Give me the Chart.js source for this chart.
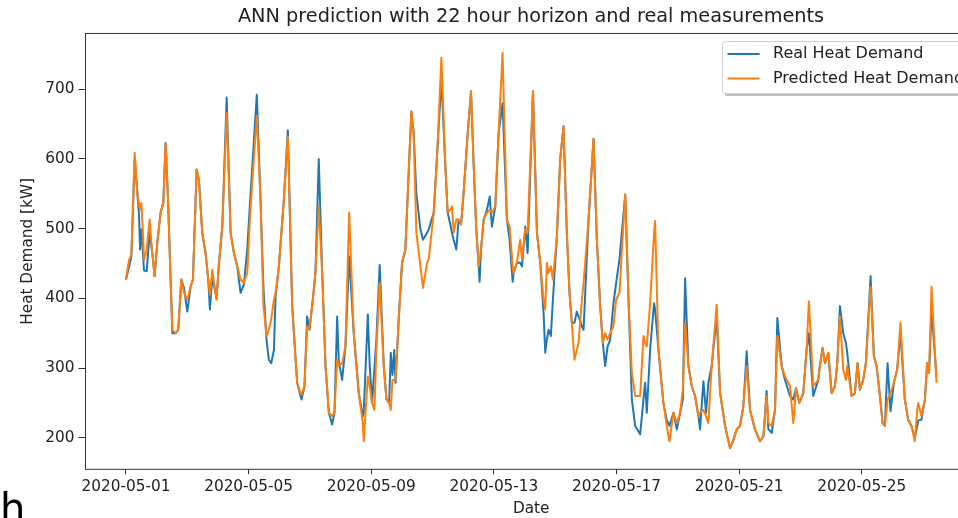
<!DOCTYPE html>
<html>
<head>
<meta charset="utf-8">
<title>ANN prediction with 22 hour horizon and real measurements</title>
<script src="https://cdn.jsdelivr.net/npm/chart.js@4.4.1/dist/chart.umd.min.js"></script>
<style>
  html, body { margin: 0; padding: 0; width: 958px; height: 518px; overflow: hidden; background: #fff; }
  #wrap { position: relative; width: 958px; height: 518px; overflow: hidden; }
  #chart { position: absolute; left: 0; top: 0; }
  #corner { position: absolute; left: 0; top: 488px; font: 40px "DejaVu Sans", sans-serif; line-height: 40px; color: #000; }
</style>
</head>
<body>
<div id="wrap">
  <canvas id="chart" width="1062" height="518"></canvas>
  <div id="corner">h</div>
</div>
<script>
// hours since 2020-05-01 00:00 at turning points
const hours = [
  0, 2.4, 4.2, 6.8, 8.9, 10.2, 11.0, 12.0, 13.1, 14.1, 16.2, 18.5, 20.6, 22.4, 24.5, 27.1, 29.2, 31.0, 32.9, 35.0,
  36.3, 38.9, 40.9, 43.3, 45.4, 48.0, 50.6, 52.4, 55.3, 57.1, 59.7, 62.3, 64.4, 65.7, 67.5, 70.9, 72.8, 75.4, 78.8, 81.9,
  84.5, 87.1, 89.7, 92.3, 94.9, 97.5, 102.4, 105.3, 107.6, 110.0, 111.8, 113.7, 115.8, 117.1, 119.7, 123.6, 126.7, 130.1, 134.0, 136.6,
  137.4, 139.7, 141.8, 143.6, 145.7, 148.3, 150.9, 153.6, 156.2, 158.8, 161.4, 163.2, 165.3, 166.6, 169.2, 171.8, 174.7, 178.3, 182.2, 185.4,
  186.1, 189.3, 190.8, 192.6, 194.5, 196.0, 198.6, 201.8, 203.9, 206.0, 207.3, 208.6, 210.0, 211.0, 213.5, 216.1, 218.7, 221.3, 223.4, 225.2,
  227.3, 230.5, 232.5, 235.7, 237.0, 240.9, 243.5, 246.9, 250.0, 251.8, 253.9, 255.2, 256.5, 258.6, 260.4, 262.3, 264.3, 267.5, 270.1, 272.2,
  274.2, 276.1, 276.8, 277.9, 280.0, 282.6, 284.7, 286.5, 289.1, 291.7, 294.8, 298.2, 300.3, 302.7, 303.4, 306.0, 308.6, 310.0, 312.6, 314.4,
  318.6, 321.7, 324.3, 326.9, 328.2, 329.5, 330.8, 332.6, 334.2, 337.3, 339.9, 342.5, 345.1, 347.2, 349.0, 351.1, 352.9, 354.3, 356.9, 358.2,
  362.1, 366.0, 368.6, 371.2, 373.3, 375.1, 377.0, 379.0, 381.6, 383.7, 386.3, 390.8, 393.4, 396.0, 398.6, 402.5, 405.1, 406.4, 407.7, 410.3,
  413.4, 414.2, 416.8, 420.7, 423.3, 425.4, 428.6, 431.2, 433.8, 435.9, 437.7, 440.3, 442.9, 445.5, 448.1, 449.4, 452.0, 454.1, 455.9, 458.5,
  462.4, 465.1, 469.0, 472.9, 475.5, 478.1, 480.7, 483.3, 485.9, 488.5, 492.4, 496.3, 499.0, 501.5, 502.9, 505.5, 508.1, 509.9, 513.3, 515.9,
  519.8, 522.4, 524.5, 527.1, 530.2, 532.8, 534.6, 538.0, 541.9, 543.2, 545.3, 547.2, 549.8, 552.4, 555.0, 556.8, 558.9, 561.5, 563.6, 564.6,
  568.0, 570.6, 572.7, 574.5, 577.1, 579.2, 582.9, 585.5, 587.6, 590.2, 592.3, 594.1, 596.2, 598.5, 601.1, 603.7, 606.3, 609.7, 612.3, 614.9,
  617.5, 619.4, 620.2, 622.7, 625.4, 627.2, 628.7, 630.6, 634.5
];

const realDemand = [
  427, 445, 460, 600, 551, 520, 470, 499, 470, 440, 439, 494, 465, 432, 480, 523, 537, 623, 542, 422,
  350, 350, 355, 427, 415, 381, 417, 427, 585, 570, 494, 465, 427, 384, 430, 400, 451, 503, 688, 494,
  465, 446, 408, 420, 470, 550, 692, 542, 415, 341, 312, 307, 326, 403, 446, 542, 641, 389, 279, 260,
  255, 274, 374, 355, 389, 436, 600, 436, 303, 236, 219, 236, 374, 310, 283, 331, 460, 350, 264, 231,
  236, 377, 303, 250, 300, 341, 448, 303, 255, 250, 322, 290, 326, 279, 370, 451, 470, 580, 668, 637,
  551, 499, 484, 494, 499, 523, 604, 714, 590, 523, 506, 494, 484, 470, 513, 506, 551, 637, 697, 590,
  499, 446, 424, 470, 513, 527, 546, 503, 532, 637, 680, 513, 484, 424, 436, 451, 451, 446, 503, 465,
  697, 494, 451, 379, 322, 341, 355, 346, 398, 489, 599, 647, 494, 408, 365, 365, 381, 374, 360, 355,
  513, 629, 484, 389, 336, 303, 331, 340, 393, 422, 456, 549, 398, 255, 217, 205, 255, 279, 236, 326,
  393, 384, 327, 250, 226, 217, 236, 212, 236, 255, 429, 303, 274, 260, 231, 212, 281, 236, 279, 303,
  374, 264, 217, 185, 197, 212, 217, 245, 324, 240, 212, 195, 202, 267, 212, 207, 240, 372, 303, 283,
  260, 255, 271, 250, 264, 327, 350, 260, 283, 303, 329, 307, 322, 264, 274, 307, 389, 350, 336, 322,
  260, 264, 307, 269, 283, 307, 432, 317, 303, 260, 221, 217, 307, 238, 279, 298, 350, 255, 226, 217,
  200, 217, 225, 226, 255, 307, 293, 384, 288
];

const predictedDemand = [
  427, 455, 462, 609, 551, 535, 527, 537, 500, 455, 470, 513, 465, 432, 480, 523, 537, 623, 542, 422,
  355, 350, 355, 427, 408, 398, 417, 427, 585, 570, 494, 465, 427, 405, 441, 398, 451, 503, 666, 494,
  465, 446, 427, 422, 436, 530, 662, 542, 390, 346, 355, 370, 398, 408, 446, 542, 632, 389, 279, 264,
  262, 274, 360, 355, 389, 436, 532, 436, 303, 236, 231, 236, 312, 303, 307, 331, 523, 350, 264, 221,
  195, 288, 274, 250, 240, 327, 422, 303, 255, 250, 240, 283, 283, 283, 370, 451, 470, 580, 668, 637,
  494, 446, 415, 451, 456, 523, 604, 745, 590, 523, 527, 532, 494, 513, 513, 506, 551, 637, 697, 590,
  499, 446, 456, 470, 513, 523, 527, 523, 532, 637, 752, 513, 503, 446, 436, 451, 484, 456, 500, 494,
  697, 494, 451, 398, 384, 451, 436, 446, 427, 489, 599, 647, 494, 408, 365, 312, 326, 336, 398, 422,
  513, 629, 484, 389, 336, 350, 341, 350, 360, 398, 408, 549, 398, 293, 260, 260, 346, 336, 331, 393,
  494, 511, 327, 250, 217, 195, 236, 221, 236, 269, 365, 303, 274, 260, 231, 236, 240, 231, 221, 303,
  391, 264, 217, 185, 197, 212, 217, 245, 303, 240, 212, 195, 202, 260, 221, 217, 240, 346, 303, 288,
  274, 221, 271, 250, 264, 327, 396, 274, 283, 303, 329, 307, 322, 264, 274, 307, 374, 298, 283, 303,
  260, 264, 307, 269, 283, 307, 417, 317, 303, 260, 221, 217, 255, 264, 279, 298, 365, 255, 226, 217,
  195, 240, 250, 231, 255, 307, 293, 417, 279
];

const tickLabels = ['2020-05-01', '2020-05-05', '2020-05-09', '2020-05-13', '2020-05-17', '2020-05-21', '2020-05-25'];
const yTicks = [200, 300, 400, 500, 600, 700];
const seriesNames = ['Real Heat Demand', 'Predicted Heat Demand'];

const FONT = '"DejaVu Sans", sans-serif';
const BLUE = '#1f77b4';
const ORANGE = '#ff7f0e';

// top and right spines like matplotlib
const framePlugin = {
  id: 'frame',
  afterDraw(chart) {
    const { ctx, chartArea: a } = chart;
    ctx.save();
    ctx.strokeStyle = '#333';
    ctx.lineWidth = 1;
    ctx.strokeRect(a.left, a.top, a.right - a.left, a.bottom - a.top);
    ctx.restore();
  }
};

// legend box in the upper right corner, inside the axes
const boxLegend = {
  id: 'boxLegend',
  afterDraw(chart) {
    const { ctx, chartArea: a } = chart;
    const w = 254, h = 52;
    const x = 722.5, y = 41.5;
    ctx.save();
    ctx.fillStyle = 'rgba(0,0,0,0.25)';
    roundRect(ctx, x + 2, y + 2.5, w, h, 3);
    ctx.fill();
    ctx.fillStyle = '#fff';
    ctx.strokeStyle = '#d0d0d0';
    ctx.lineWidth = 1;
    roundRect(ctx, x, y, w, h, 3);
    ctx.fill();
    ctx.stroke();
    const colors = [BLUE, ORANGE];
    ctx.font = '16px ' + FONT;
    ctx.textBaseline = 'middle';
    seriesNames.forEach((name, i) => {
      const ry = y + 12.5 + i * 24.5;
      ctx.strokeStyle = colors[i];
      ctx.lineWidth = 2;
      ctx.beginPath();
      ctx.moveTo(x + 5, ry);
      ctx.lineTo(x + 37, ry);
      ctx.stroke();
      ctx.fillStyle = '#222';
      ctx.fillText(name, x + 50.5, ry);
    });
    ctx.restore();
  }
};

function roundRect(ctx, x, y, w, h, r) {
  ctx.beginPath();
  ctx.moveTo(x + r, y);
  ctx.lineTo(x + w - r, y);
  ctx.quadraticCurveTo(x + w, y, x + w, y + r);
  ctx.lineTo(x + w, y + h - r);
  ctx.quadraticCurveTo(x + w, y + h, x + w - r, y + h);
  ctx.lineTo(x + r, y + h);
  ctx.quadraticCurveTo(x, y + h, x, y + h - r);
  ctx.lineTo(x, y + r);
  ctx.quadraticCurveTo(x, y, x + r, y);
  ctx.closePath();
}

const realPoints = hours.map((h, i) => ({ x: h, y: realDemand[i] }));
const predPoints = hours.map((h, i) => ({ x: h, y: predictedDemand[i] }));

new Chart(document.getElementById('chart'), {
  type: 'line',
  data: {
    datasets: [
      {
        label: seriesNames[0],
        data: realPoints,
        borderColor: BLUE,
        borderWidth: 2,
        pointRadius: 0,
        tension: 0,
        borderJoinStyle: 'round',
        order: 2
      },
      {
        label: seriesNames[1],
        data: predPoints,
        borderColor: ORANGE,
        borderWidth: 2,
        pointRadius: 0,
        tension: 0,
        borderJoinStyle: 'round',
        order: 1
      }
    ]
  },
  options: {
    responsive: false,
    animation: false,
    devicePixelRatio: 1,
    layout: { padding: 0 },
    plugins: {
      legend: { display: false },
      tooltip: { enabled: false },
      title: {
        display: true,
        text: 'ANN prediction with 22 hour horizon and real measurements',
        color: '#222',
        font: { family: FONT, size: 19.3, weight: 'normal' },
        padding: { top: 5, bottom: 5.3 }
      }
    },
    scales: {
      x: {
        type: 'linear',
        min: -31.7,
        max: 666.2,
        border: { display: false },
        grid: { drawOnChartArea: false, drawTicks: true, tickLength: 5, tickColor: '#333', tickWidth: 1 },
        afterBuildTicks: s => { s.ticks = tickLabels.map((_, i) => ({ value: i * 96 })); },
        afterFit: s => { s.height = 48.7; },
        ticks: {
          autoSkip: false,
          maxRotation: 0,
          padding: 3.5,
          color: '#222',
          font: { family: FONT, size: 15.3 },
          callback: v => tickLabels[Math.round(v / 96)]
        },
        title: {
          display: true,
          text: 'Date',
          color: '#222',
          font: { family: FONT, size: 15.3 },
          padding: { top: 0, bottom: 0 }
        }
      },
      y: {
        min: 154.8,
        max: 780,
        border: { display: false },
        grid: { drawOnChartArea: false, drawTicks: true, tickLength: 7, tickColor: '#333', tickWidth: 1 },
        afterBuildTicks: s => { s.ticks = yTicks.map(v => ({ value: v })); },
        afterFit: s => { s.width = 85.5; },
        ticks: {
          padding: 4,
          color: '#222',
          font: { family: FONT, size: 15.3 }
        },
        title: {
          display: true,
          text: 'Heat Demand [kW]',
          color: '#222',
          font: { family: FONT, size: 15.3 },
          padding: { top: 19.3, bottom: 0 }
        }
      },
      // empty right-hand strip: the figure continues past the window edge
      spacer: {
        type: 'linear',
        position: 'right',
        min: 0,
        max: 1,
        grid: { display: false },
        border: { display: false },
        ticks: { display: false },
        afterFit: s => { s.width = 85; }
      }
    }
  },
  plugins: [framePlugin, boxLegend]
});
</script>
</body>
</html>
